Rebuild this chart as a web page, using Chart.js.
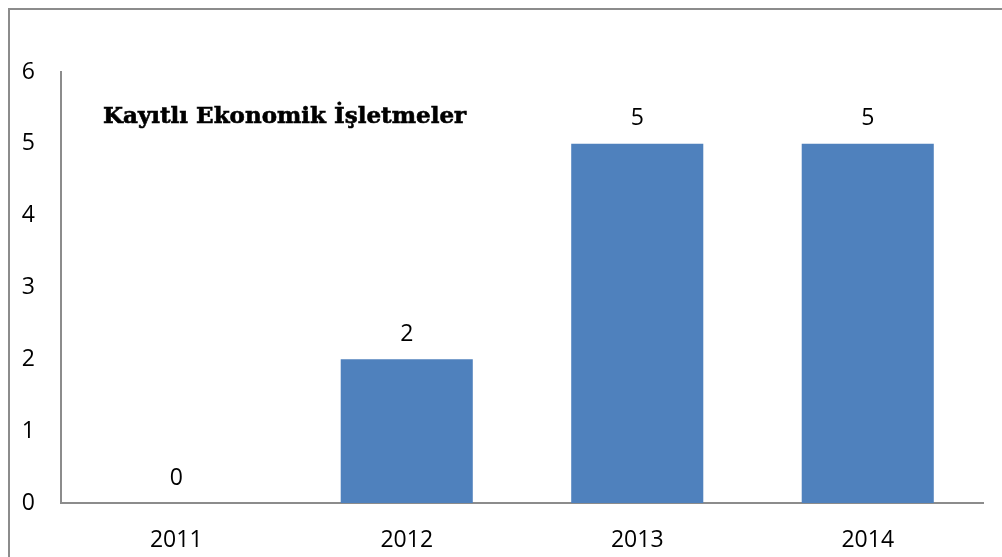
<!DOCTYPE html>
<html>
<head>
<meta charset="utf-8">
<script src="https://cdn.jsdelivr.net/npm/chart.js@4"></script>
<style>
  html, body { margin: 0; padding: 0; background: #fff; overflow: hidden; }
  #frame {
    position: absolute; left: 8px; top: 8px;
    width: 1100px; height: 700px;
    border: 2px solid #8c8c8c;
  }
  #wrap { position: absolute; left: 0; top: 0; width: 1002px; height: 557px; }
</style>
</head>
<body>
<div id="frame"></div>
<div id="wrap"><canvas id="chart"></canvas></div>
<script>
const years = ["2011", "2012", "2013", "2014"];
const counts = [0, 2, 5, 5];
const yTicks = [0, 1, 2, 3, 4, 5, 6];
const chartTitle = "Kayıtlı Ekonomik İşletmeler";

const numFont = { family: "'Open Sans', sans-serif", size: 23 };

// value labels above each bar
const barLabels = {
  id: 'barLabels',
  afterDatasetsDraw(c) {
    const ctx = c.ctx;
    const meta = c.getDatasetMeta(0);
    ctx.save();
    ctx.font = `${numFont.size}px ${numFont.family}`;
    ctx.fillStyle = '#000';
    ctx.textAlign = 'center';
    ctx.textBaseline = 'middle';
    meta.data.forEach((bar, i) => {
      ctx.fillText(String(counts[i]), bar.x, bar.y - 25);
    });
    ctx.restore();
  }
};

// title sits inside the plot area, top-left
const innerTitle = {
  id: 'innerTitle',
  afterDraw(c) {
    const ctx = c.ctx;
    const a = c.chartArea;
    ctx.save();
    ctx.font = "bold 23px 'DejaVu Serif', serif";
    ctx.fillStyle = '#000';
    ctx.textAlign = 'left';
    ctx.textBaseline = 'middle';
    ctx.lineWidth = 0.6;
    ctx.strokeStyle = '#000';
    ctx.fillText(chartTitle, a.left + 42, a.top + 45);
    ctx.strokeText(chartTitle, a.left + 42, a.top + 45);
    ctx.restore();
  }
};

new Chart(document.getElementById('chart'), {
  type: 'bar',
  data: {
    labels: years,
    datasets: [{
      data: counts,
      backgroundColor: '#4f81bd',
      barPercentage: 0.573,
      categoryPercentage: 1.0
    }]
  },
  options: {
    responsive: true,
    maintainAspectRatio: false,
    animation: false,
    layout: { padding: { left: 0, top: 72, right: 19, bottom: 0 } },
    plugins: { legend: { display: false }, tooltip: { enabled: false } },
    scales: {
      x: {
        grid: { display: false, drawTicks: false },
        border: { color: '#8c8c8c', width: 2 },
        ticks: { color: '#000', font: numFont, padding: 24 },
        afterFit: s => { s.height = 54; }
      },
      y: {
        min: 0, max: 6,
        grid: { display: false, drawTicks: false },
        border: { color: '#8c8c8c', width: 2 },
        afterBuildTicks: s => { s.ticks = yTicks.map(v => ({ value: v })); },
        ticks: { color: '#000', font: numFont, padding: 26 },
        afterFit: s => { s.width = 61; }
      }
    }
  },
  plugins: [barLabels, innerTitle]
});
</script>
</body>
</html>
